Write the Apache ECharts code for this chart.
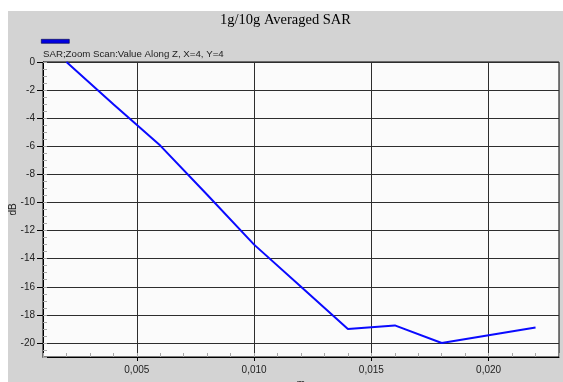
<!DOCTYPE html>
<html>
<head>
<meta charset="utf-8">
<script src="https://cdn.jsdelivr.net/npm/echarts@6/dist/echarts.min.js"></script>
<style>
  html, body { margin: 0; padding: 0; background: #ffffff; }
  #wrap { position: relative; width: 563px; height: 382px; overflow: hidden; background: #ffffff; }
  #chart { position: absolute; left: 8px; top: 11px; width: 555px; height: 371px; }
</style>
</head>
<body>
<div id="wrap"><div id="chart"></div></div>
<script>
// SAR zoom-scan profile along Z (X=4, Y=4)
const chartTitle = '1g/10g Averaged SAR';
const seriesName = 'SAR;Zoom Scan:Value Along Z, X=4, Y=4';
const zPositions = [0.002, 0.004, 0.006, 0.008, 0.010, 0.012, 0.014, 0.016, 0.018, 0.020, 0.022];
const sarDb      = [0, -3.0, -5.95, -9.45, -13.0, -16.0, -19.0, -18.75, -20.0, -19.45, -18.9];
const xTicks = [0.005, 0.010, 0.015, 0.020];
const yTicks = [0, -2, -4, -6, -8, -10, -12, -14, -16, -18, -20];
const xRange = [0.001, 0.023];
const yRange = [-21, 0];

const FONT = 'Liberation Sans, Arial, sans-serif';

const chart = echarts.init(document.getElementById('chart'), null, { renderer: 'canvas' });

chart.setOption({
  backgroundColor: '#d3d3d3',
  animation: false,
  title: [
    {
      text: chartTitle,
      left: 'center',
      top: 2,
      padding: 0,
      textStyle: { fontFamily: 'Liberation Serif, Times New Roman, serif', fontSize: 14.5, fontWeight: 'normal', color: '#000' }
    },
    {
      text: seriesName,
      left: 35,
      top: 38,
      padding: 0,
      textStyle: { fontFamily: FONT, fontSize: 9.7, fontWeight: 'normal', color: '#222' }
    }
  ],
  legend: {
    left: 33,
    top: 28,
    padding: 0,
    itemWidth: 28,
    itemHeight: 4,
    icon: 'rect',
    formatter: () => '',
    data: [{ name: seriesName, itemStyle: { color: '#0000e0', borderColor: '#000040', borderWidth: 0.6 } }]
  },
  grid: {
    show: true, backgroundColor: '#fbfbfb', borderColor: '#000', borderWidth: 1,
    left: 35, right: 4, top: 51, bottom: 25,
    outerBoundsMode: 'none'
  },
  xAxis: [
    {
      type: 'value',
      min: xRange[0], max: xRange[1],
      name: 'm', nameLocation: 'middle', nameGap: 22, nameMoveOverlap: false,
      nameTextStyle: { fontFamily: FONT, fontSize: 10, color: '#222' },
      axisLine: { show: true, onZero: false, lineStyle: { color: '#000', width: 1 } },
      axisTick: { show: true, length: 4, customValues: xTicks, lineStyle: { color: '#000' } },
      axisLabel: {
        fontFamily: FONT, fontSize: 10, color: '#222', margin: 8,
        customValues: xTicks,
        formatter: v => v.toFixed(3).replace('.', ',')
      },
      splitLine: { show: true, lineStyle: { color: '#2e2e2e', width: 1 } },
      z: 3
    },
    {
      // inner minor ticks every 0.001
      type: 'value', position: 'bottom',
      min: xRange[0], max: xRange[1], interval: 0.001,
      axisLine: { show: true, onZero: false, lineStyle: { color: '#000', opacity: 0 } },
      axisTick: { show: true, inside: true, length: 4, lineStyle: { color: '#a8a8a8', width: 1 } },
      axisLabel: { show: false },
      splitLine: { show: false },
      z: 4
    }
  ],
  yAxis: [
    {
      type: 'value',
      min: yRange[0], max: yRange[1],
      name: 'dB', nameLocation: 'middle', nameGap: 25, nameRotate: 90, nameMoveOverlap: false,
      nameTextStyle: { fontFamily: FONT, fontSize: 10, color: '#222' },
      axisLine: { show: true, onZero: false, lineStyle: { color: '#000', width: 1 } },
      axisTick: { show: true, length: 6, customValues: yTicks, lineStyle: { color: '#000' } },
      axisLabel: {
        fontFamily: FONT, fontSize: 10, color: '#222', margin: 8,
        customValues: yTicks,
        formatter: v => String(Math.round(v))
      },
      splitLine: { show: true, lineStyle: { color: '#2e2e2e', width: 1 } },
      z: 3
    },
    {
      // inner minor ticks every 0.5 dB
      type: 'value', position: 'left',
      min: yRange[0], max: yRange[1], interval: 0.5,
      axisLine: { show: true, onZero: false, lineStyle: { color: '#000', opacity: 0 } },
      axisTick: { show: true, inside: true, length: 4, lineStyle: { color: '#a8a8a8', width: 1 } },
      axisLabel: { show: false },
      splitLine: { show: false },
      z: 4
    }
  ],
  series: [
    {
      name: seriesName,
      type: 'line',
      xAxisIndex: 0,
      yAxisIndex: 0,
      data: zPositions.map((z, i) => [z, sarDb[i]]),
      showSymbol: false,
      symbol: 'none',
      lineStyle: { color: '#0a0aff', width: 2 },
      itemStyle: { color: '#0000e0' },
      z: 5
    }
  ]
});
</script>
</body>
</html>
